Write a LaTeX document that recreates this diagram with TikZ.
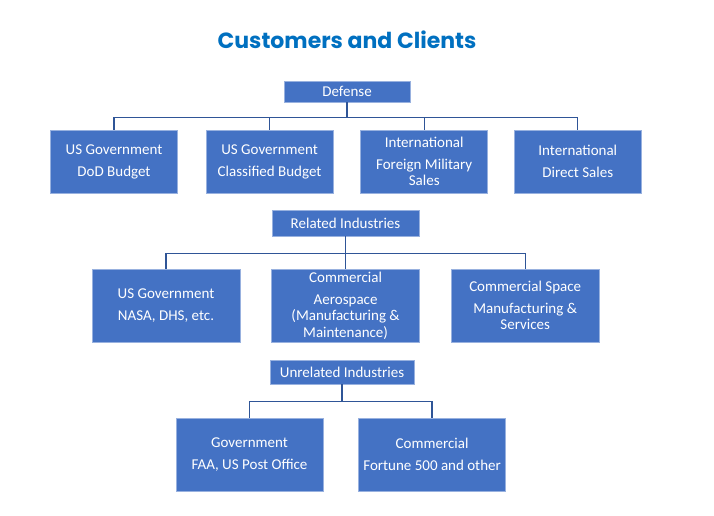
\documentclass[tikz,border=0pt]{standalone}
\usepackage{fontspec}
\setmainfont{Carlito}
\newfontfamily\titlefont{Poppins}
\usetikzlibrary{positioning}
\definecolor{boxblue}{HTML}{4472C4}
\definecolor{lineblue}{HTML}{2F5597}
\definecolor{titleblue}{HTML}{0070C0}

\begin{document}
\begin{tikzpicture}[
    x=1pt, y=-1pt,
    box/.style={
        rectangle,
        fill=boxblue,
        draw=boxblue!55!white,
        line width=0.6pt,
        text=white,
        align=center,
        inner sep=2pt,
        minimum width=127pt,
        minimum height=63pt,
        font=\fontsize{15}{16.5}\selectfont
    },
    bigbox/.style={
        box,
        minimum width=148pt,
        minimum height=73pt
    },
    head/.style={
        box,
        minimum height=22pt
    },
    link/.style={draw=lineblue, line width=1.3pt}
]
\useasboundingbox (0,0) rectangle (714,516);

\node[font=\titlefont\bfseries\fontsize{22}{26}\selectfont, text=titleblue] (title) at (347,40) {Customers and Clients};

% defense
\node[head, minimum width=126pt, minimum height=21pt] (def) at (347,91.5) {Defense};

\node[box] (dod) at (114,161.5) {US Government\\[5.5pt]DoD Budget};
\node[box, right=28pt of dod] (cls) {US Government\\[5.5pt]Classified Budget};
\node[box, right=27pt of cls] (fms) {International\\[5.5pt]Foreign Military\\Sales};
\node[box, right=26pt of fms] (dcs) {International\\[5.5pt]Direct Sales};

% related industries
\node[head, minimum width=147pt, minimum height=26pt] (rel) at (345.5,223) {Related Industries};

\node[bigbox] (usg) at (166,305.5) {US Government\\[5.5pt]NASA, DHS, etc.};
\node[bigbox, right=31pt of usg] (cae) {Commercial\\[5.5pt]Aerospace\\(Manufacturing \&\\Maintenance)};
\node[bigbox, right=31pt of cae] (csp) {Commercial Space\\[5.5pt]Manufacturing \&\\Services};

% unrelated industries
\node[head, minimum width=144pt, minimum height=24pt] (unrel) at (342,372) {Unrelated Industries};

\node[bigbox, minimum width=147pt] (gov) at (249.5,454.5) {Government\\[5.5pt]FAA, US Post Office};
\node[bigbox, minimum width=147pt, right=35pt of gov] (com) {Commercial\\[5.5pt]Fortune 500 and other};

\foreach \kid in {dod,cls,fms,dcs}
    \draw[link] (def.south) -- ++(0,15.5) -| (\kid.north);
\foreach \kid in {usg,cae,csp}
    \draw[link] (rel.south) -- ++(0,17) -| (\kid.north);
\foreach \kid in {gov,com}
    \draw[link] (unrel.south) -- ++(0,17) -| (\kid.north);

\end{tikzpicture}
\end{document}
